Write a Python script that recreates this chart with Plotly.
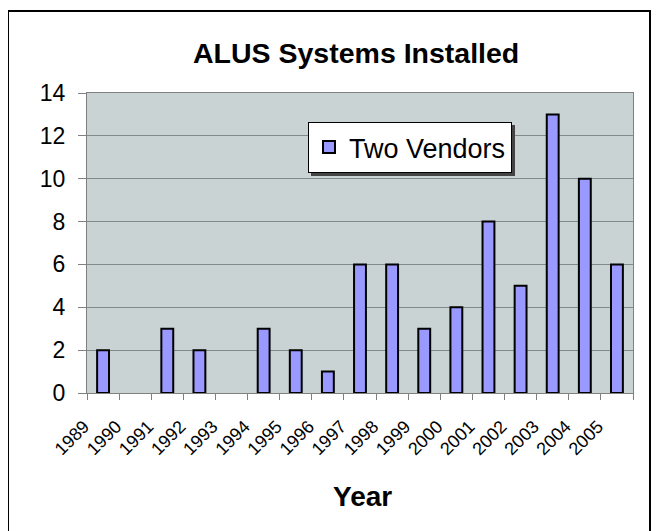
import plotly.graph_objects as go

years = ["1989", "1990", "1991", "1992", "1993", "1994", "1995", "1996", "1997",
         "1998", "1999", "2000", "2001", "2002", "2003", "2004", "2005"]
installed = [2, None, 3, 2, None, 3, 2, 1, 6, 6, 3, 4, 8, 5, 13, 10, 6]
series_name = "Two Vendors"
y_ticks = [0, 2, 4, 6, 8, 10, 12, 14]

# page body has an 8px margin, so the figure is 8px smaller than the window
OFF = 8
W, H = 660 - OFF, 531 - OFF
L, R, T, B = 79, 27, 85, 138
PW, PH = W - L - R, H - T - B

def sx(x):
    """screen x (px) -> paper x"""
    return (x - OFF - L) / PW

def sy(y):
    """screen y (px) -> paper y"""
    return (T + PH - (y - OFF)) / PH

FONT = "Arial, Liberation Sans, sans-serif"

fig = go.Figure()
fig.add_trace(go.Bar(
    x=years, y=installed, name=series_name,
    width=0.37,
    marker=dict(color="#9999ff", line=dict(color="#000000", width=2)),
    showlegend=True,
))

fig.update_layout(
    width=W, height=H,
    margin=dict(l=L, r=R, t=T, b=B),
    paper_bgcolor="white",
    plot_bgcolor="#c9d3d3",
    font=dict(family=FONT, color="black"),
    showlegend=True,
    legend=dict(
        x=sx(308), y=sy(122), xanchor="left", yanchor="top",
        bgcolor="white", bordercolor="black", borderwidth=1,
        font=dict(size=27, family=FONT),
    ),
    xaxis=dict(
        type="category", tickson="boundaries", ticks="outside", ticklen=6,
        tickcolor="#808080", showgrid=False, showline=True, linecolor="#808080",
        mirror=True, tickangle=-45, tickfont=dict(size=18),
        ticklabelshift=-19, ticklabelstandoff=15,
    ),
    yaxis=dict(
        range=[0, 14], tickvals=y_ticks, ticks="outside", ticklen=8,
        tickcolor="#808080", showgrid=True, gridcolor="#7f8b8b", gridwidth=1,
        showline=True, linecolor="#808080", mirror=True, zeroline=False,
        tickfont=dict(size=23), ticklabelstandoff=8,
    ),
    annotations=[
        dict(text="<b>ALUS Systems Installed</b>", xref="paper", yref="paper",
             x=sx(356), y=sy(35), xanchor="center", yanchor="top", showarrow=False,
             font=dict(size=28.5, family=FONT)),
        dict(text="<b>Year</b>", xref="paper", yref="paper",
             x=sx(362), y=sy(479), xanchor="center", yanchor="top", showarrow=False,
             font=dict(size=28, family=FONT)),
    ],
    shapes=[
        dict(type="rect", xref="paper", yref="paper",
             x0=sx(8), x1=sx(650), y0=sy(560), y1=sy(11),
             line=dict(color="black", width=2), fillcolor="rgba(0,0,0,0)",
             layer="below"),
        dict(type="rect", xref="paper", yref="paper",
             x0=sx(311), x1=sx(515), y0=sy(176), y1=sy(125),
             line=dict(width=0), fillcolor="#444444", layer="above"),
    ],
)

fig.write_html("out.html")
